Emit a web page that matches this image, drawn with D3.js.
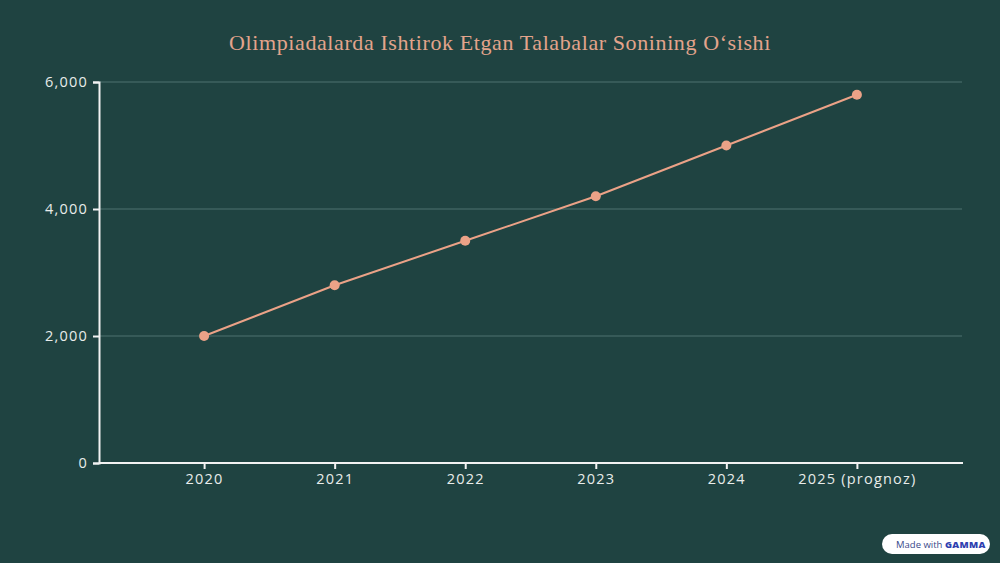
<!DOCTYPE html>
<html>
<head>
<meta charset="utf-8">
<script src="https://cdn.jsdelivr.net/npm/d3@7"></script>
<style>
html,body{margin:0;padding:0;background:#1f4341;}
svg{display:block;}
</style>
</head>
<body>
<svg id="chart" width="1000" height="563"></svg>
<script>
const categories = ["2020","2021","2022","2023","2024","2025 (prognoz)"];
const values = [2000, 2800, 3500, 4200, 5000, 5800];
const yTicks = [0, 2000, 4000, 6000];
const title = "Olimpiadalarda Ishtirok Etgan Talabalar Sonining O‘sishi";

const svg = d3.select("#chart");
const W = 1000, H = 563;
const m = {left: 99, right: 38, top: 82, bottom: 100};
svg.append("rect").attr("width", W).attr("height", H).attr("fill", "#1f4341");

const x = d3.scalePoint().domain(categories).range([m.left, W - m.right]).padding(0.805);
const y = d3.scaleLinear().domain([0, 6000]).range([H - m.bottom, m.top]);

// title
svg.append("text").attr("x", 500).attr("y", 50).attr("text-anchor", "middle")
  .style("font-family", "'Liberation Serif', serif").attr("font-size", 22)
  .attr("letter-spacing", 0.6)
  .attr("fill", "#e3a48c").text(title);

// gridlines
svg.append("g").selectAll("line").data(yTicks.filter(d => d > 0)).join("line")
  .attr("x1", m.left).attr("x2", W - m.right)
  .attr("y1", d => y(d)).attr("y2", d => y(d))
  .attr("stroke", "#4f7370").attr("stroke-width", 1);

// y axis
const ya = svg.append("g").attr("transform", `translate(${m.left},0)`)
  .call(d3.axisLeft(y).tickValues(yTicks).tickFormat(d3.format(",")).tickSize(6).tickPadding(5));
// x axis
const xa = svg.append("g").attr("transform", `translate(0,${H - m.bottom})`)
  .call(d3.axisBottom(x).tickSize(6).tickPadding(5));
xa.select(".domain").attr("d", `M${m.left},0H${W - m.right + 1}`);
[ya, xa].forEach(a => {
  a.select(".domain").attr("stroke", "#f2f2f2").attr("stroke-width", 2);
  a.selectAll(".tick line").attr("stroke", "#f2f2f2").attr("stroke-width", 2);
  a.selectAll("text").attr("fill", "#e8ecea").attr("font-family", "'Open Sans', sans-serif")
    .attr("font-size", 14.5).attr("letter-spacing", 1.2);
});

// line
const data = categories.map((c, i) => ({c, v: values[i]}));
svg.append("path").datum(data)
  .attr("fill", "none").attr("stroke", "#eba287").attr("stroke-width", 2)
  .attr("d", d3.line().x(d => x(d.c)).y(d => y(d.v)));
svg.append("g").selectAll("circle").data(data).join("circle")
  .attr("cx", d => x(d.c)).attr("cy", d => y(d.v)).attr("r", 5)
  .attr("fill", "#eba287");

// badge
const b = svg.append("g").attr("transform", "translate(882,534)");
b.append("rect").attr("width", 108).attr("height", 20).attr("rx", 10).attr("fill", "#ffffff");
b.append("text").attr("x", 14).attr("y", 14).attr("font-family", "'Open Sans', sans-serif")
  .attr("font-size", 9.5).attr("fill", "#3a4a8a")
  .html('Made with <tspan font-weight="800" fill="#2f3fb0" letter-spacing="0.3">GAMMA</tspan>');
</script>
</body>
</html>
